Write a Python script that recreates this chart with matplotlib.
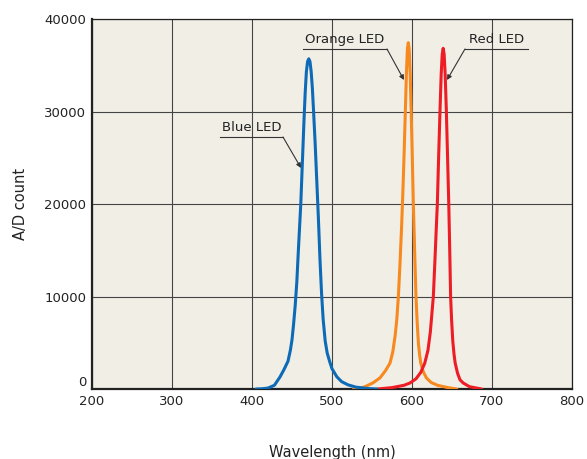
import matplotlib
matplotlib.use("Agg")
import matplotlib.pyplot as plt

# spectra (wavelength nm, A/D count)
blue_nm = [405, 412, 420, 428, 435, 440, 445, 448, 450, 452, 454, 456, 458, 461, 463, 465, 466.5, 468, 469.5, 471,
           472.5, 474, 475.5, 477, 479, 481, 483, 485, 487, 489, 491.5, 494, 497, 500, 506, 512, 520, 530, 545, 556]
blue_ct = [0, 20, 100, 400, 1300, 2100, 3000, 4200, 5300, 7000, 9000, 11500, 15000, 20000, 24500, 29000, 32000, 34300, 35400, 35700,
           35400, 34300, 32500, 30000, 26500, 22500, 18500, 14000, 10300, 7500, 5200, 3900, 3000, 2200, 1330, 800, 450, 200, 50, 0]

orange_nm = [527, 540, 551, 560, 567, 572.5, 576, 579, 581, 583, 585, 587, 588.5, 590, 591.7, 593, 594.3, 595.4, 596.5, 597.8,
             599, 600.4, 601.7, 603.3, 605, 606.5, 608, 609.5, 611, 614, 618, 624, 632, 645, 656]
orange_ct = [0, 200, 650, 1200, 2000, 2800, 4000, 5800, 7500, 10000, 13500, 17500, 21000, 25000, 30000, 34000, 36800, 37440, 36800, 34000,
             30000, 25000, 20000, 15000, 10000, 7200, 5000, 3700, 2800, 1900, 1200, 700, 400, 150, 0]

red_nm = [557, 575, 590, 597.5, 605, 611, 616, 620, 623, 626.7, 628.5, 630.2, 631.7, 633.3, 635, 636.5, 637.8, 639, 640.2, 641.5,
          643, 644.5, 646, 647.2, 648.3, 649.5, 651, 652.5, 654, 657, 660, 664, 672, 687]
red_ct = [0, 150, 400, 650, 1100, 1800, 2800, 4200, 6200, 10000, 13500, 17000, 20000, 25000, 30000, 34000, 36200, 36830, 36200, 34000,
          30000, 25000, 20000, 15000, 10000, 7500, 5200, 3800, 2800, 1700, 1000, 650, 250, 0]

labels = ["Blue LED", "Orange LED", "Red LED"]
colors = ["#0d6ab7", "#f7891f", "#ee1c25"]

plt.rcParams["font.family"] = ["DejaVu Sans"]
fig = plt.figure(figsize=(5.87, 4.59), dpi=100)
ax = fig.add_axes([0.1567, 0.1525, 0.8177, 0.8061])
ax.set_facecolor("#f1eee6")

ax.set_xlim(200, 800); ax.set_ylim(0, 40000)
ax.set_xticks(range(200, 801, 100)); ax.set_yticks(range(0, 40001, 10000))
ax.grid(True, color="#444444", lw=0.8, zorder=1)
ax.tick_params(length=0, labelsize=9.5, colors="#222", pad=4)
for s in ax.spines.values():
    s.set_color("#222"); s.set_linewidth(0.9)
ax.spines["left"].set_linewidth(1.6); ax.spines["bottom"].set_linewidth(1.6)
ax.get_yticklabels()[0].set_verticalalignment("bottom")   # "0" sits above the axis line

series = {"Blue LED": (blue_nm, blue_ct), "Orange LED": (orange_nm, orange_ct), "Red LED": (red_nm, red_ct)}
for lab, c, z in [("Orange LED", colors[1], 3), ("Red LED", colors[2], 3.1), ("Blue LED", colors[0], 3.2)]:
    xs, ys = series[lab]
    ax.plot(xs, ys, color=c, lw=2.2, solid_joinstyle="round", solid_capstyle="round", zorder=z)

# callouts: underline start/end, arrow tip
calls = [(360, 438.75, 27243, 461.3, 23892, "right"),
         (463.75, 568.75, 36757, 590, 33405, "right"),
         (666.25, 745, 36757, 643.75, 33405, "left")]
for lab, (x0, x1, yu, xt, yt, side) in zip(labels, calls):
    ax.plot([x0, x1], [yu, yu], color="#333", lw=0.8, zorder=4, clip_on=False)
    xs = x1 if side == "right" else x0
    ax.annotate("", xy=(xt, yt), xytext=(xs, yu),
                arrowprops=dict(arrowstyle="-|>", color="#333", lw=0.8, mutation_scale=7, shrinkA=0, shrinkB=0), zorder=4)
    ax.text((x0 + x1) / 2, yu + 300, lab, ha="center", va="bottom", fontsize=9.5, color="#222", zorder=4)

ax.set_xlabel("Wavelength (nm)", fontsize=10.5, color="#222", labelpad=27)
ax.set_ylabel("A/D count", fontsize=10.5, color="#222", labelpad=12)

fig.savefig("out.png", dpi=100, facecolor="white")
